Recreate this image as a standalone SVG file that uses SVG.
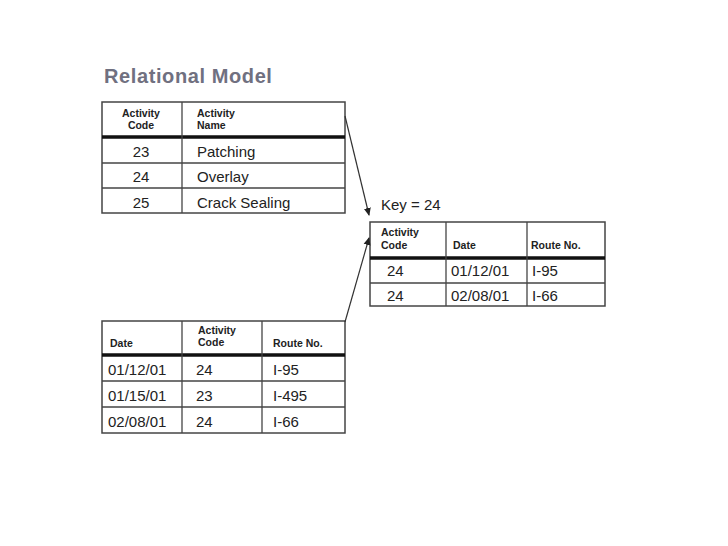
<svg xmlns="http://www.w3.org/2000/svg" width="728" height="546" viewBox="0 0 728 546">
<style>
text{font-family:"Liberation Sans",Arial,sans-serif;fill:#222}
.h{font-size:10.5px;font-weight:bold}
.c{font-size:15px}
.box{fill:none;stroke:#444;stroke-width:1.5}
.thick{stroke:#111;stroke-width:3.5}
.ln{stroke:#444;stroke-width:1.3}
.con{stroke:#333;stroke-width:1.2;fill:none;marker-end:url(#ah)}
</style>
<defs><marker id="ah" markerWidth="8" markerHeight="8" refX="7" refY="4" orient="auto" markerUnits="userSpaceOnUse"><path d="M0,0.5 L8,4 L0,7.5 Z" fill="#222"/></marker></defs>
<rect width="728" height="546" fill="#fff"/>
<text x="104" y="83" style="font-size:20px;font-weight:bold;fill:#707080;letter-spacing:0.6px">Relational Model</text>
<g id="activities">
<rect class="box" x="102" y="102" width="243" height="111"/>
<line class="thick" x1="102" y1="137" x2="345" y2="137"/>
<line class="ln" x1="102" y1="163" x2="345" y2="163"/>
<line class="ln" x1="102" y1="188" x2="345" y2="188"/>
<line class="ln" x1="182" y1="102" x2="182" y2="213"/>
<text class="h" x="141" y="117" text-anchor="middle">Activity</text>
<text class="h" x="141" y="129" text-anchor="middle">Code</text>
<text class="h" x="197" y="117">Activity</text>
<text class="h" x="197" y="129">Name</text>
<text class="c" x="141" y="157" text-anchor="middle">23</text>
<text class="c" x="197" y="157">Patching</text>
<text class="c" x="141" y="182" text-anchor="middle">24</text>
<text class="c" x="197" y="182">Overlay</text>
<text class="c" x="141" y="208" text-anchor="middle">25</text>
<text class="c" x="197" y="208">Crack Sealing</text>
</g>
<g id="log">
<rect class="box" x="102" y="321" width="243" height="112"/>
<line class="thick" x1="102" y1="355" x2="345" y2="355"/>
<line class="ln" x1="102" y1="381" x2="345" y2="381"/>
<line class="ln" x1="102" y1="407" x2="345" y2="407"/>
<line class="ln" x1="182" y1="321" x2="182" y2="433"/>
<line class="ln" x1="262" y1="321" x2="262" y2="433"/>
<text class="h" x="110" y="347">Date</text>
<text class="h" x="198" y="334">Activity</text>
<text class="h" x="198" y="346">Code</text>
<text class="h" x="273" y="347">Route No.</text>
<text class="c" x="108" y="375">01/12/01</text>
<text class="c" x="196" y="375">24</text>
<text class="c" x="273" y="375">I-95</text>
<text class="c" x="108" y="401">01/15/01</text>
<text class="c" x="196" y="401">23</text>
<text class="c" x="273" y="401">I-495</text>
<text class="c" x="108" y="427">02/08/01</text>
<text class="c" x="196" y="427">24</text>
<text class="c" x="273" y="427">I-66</text>
</g>
<g id="result">
<text x="381" y="210" style="font-size:15px">Key = 24</text>
<rect class="box" x="370" y="222" width="235" height="84"/>
<line class="thick" x1="370" y1="258" x2="605" y2="258"/>
<line class="ln" x1="370" y1="283" x2="605" y2="283"/>
<line class="ln" x1="446" y1="222" x2="446" y2="306"/>
<line class="ln" x1="527" y1="222" x2="527" y2="306"/>
<text class="h" x="381" y="236">Activity</text>
<text class="h" x="381" y="249">Code</text>
<text class="h" x="453" y="249">Date</text>
<text class="h" x="531" y="249">Route No.</text>
<text class="c" x="387" y="276">24</text>
<text class="c" x="451" y="276">01/12/01</text>
<text class="c" x="532" y="276">I-95</text>
<text class="c" x="387" y="301">24</text>
<text class="c" x="451" y="301">02/08/01</text>
<text class="c" x="532" y="301">I-66</text>
</g>
<g id="connectors">
<path class="con" d="M345,116 L369,215"/>
<path class="con" d="M345,322 L369,238"/>
</g>
</svg>
